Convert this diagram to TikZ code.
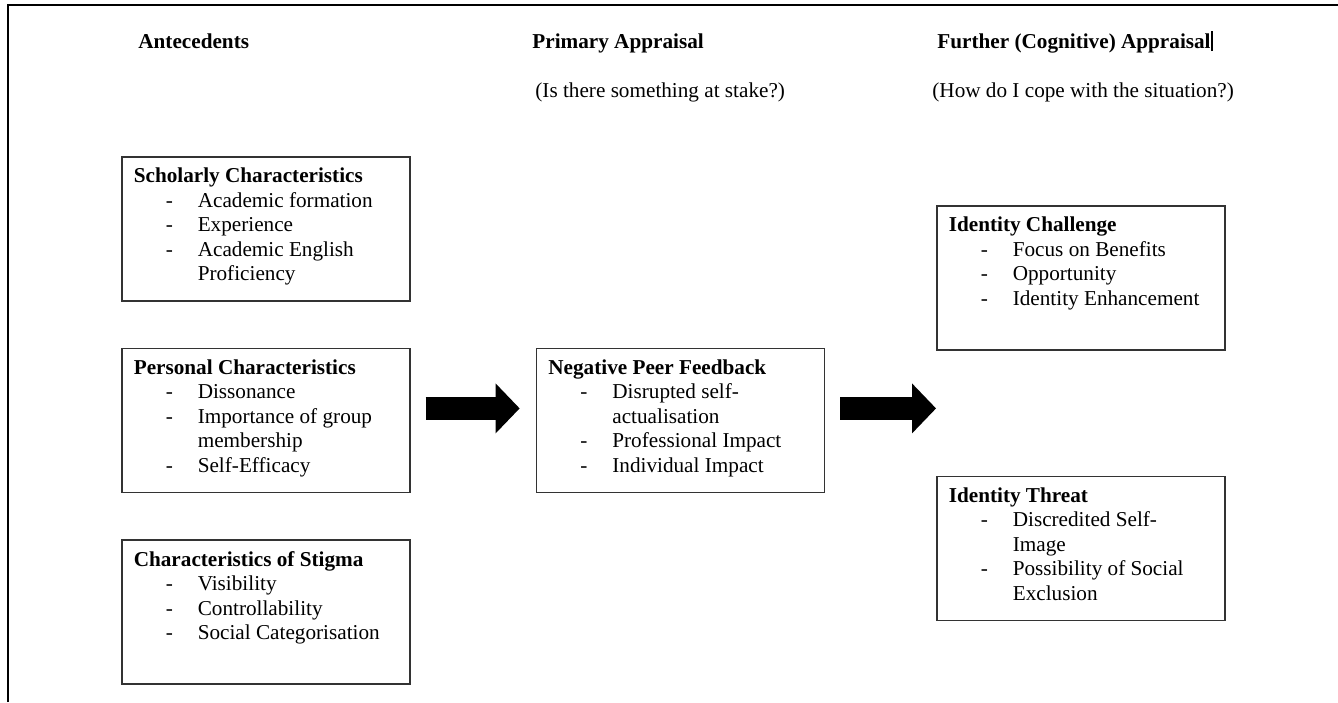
\documentclass[tikz,border=0pt]{standalone}
\usepackage{fontspec}
\setmainfont{Liberation Serif}
\usepackage{tikz}
\usetikzlibrary{positioning, arrows.meta}

\newcommand{\dashitem}{\\\hspace*{16pt}\makebox[16pt][l]{-}}
\newcommand{\moreline}{\\\hspace*{32pt}}
\newcommand{\boxtext}[1]{\parbox[c][72pt][t]{132pt}{\rule{0pt}{13pt}#1}}

\begin{document}
\begin{tikzpicture}[
  x=0.5pt, y=-0.5pt,
  font=\fontsize{10.6}{12.25}\selectfont,
  colhead/.style={anchor=base west, inner sep=0pt, font=\fontsize{10.6}{12.25}\selectfont\bfseries},
  colask/.style={anchor=base west, inner sep=0pt},
  box/.style={draw=black!80, line width=0.8pt, fill=white, inner xsep=6pt, inner ysep=0pt, anchor=north west},
  blockarr/.style={-{Triangle[length=12pt, width=25pt, line width=0pt]}, line width=11.5pt, shorten <=7.5pt, shorten >=8pt},
  pageline/.style={line width=1pt}
]
\useasboundingbox (0,0) rectangle (1338,702);
\draw[pageline] (8,702) -- (8,5) -- (1338,5);

% column headings
\node[colhead] (hdAnte) at (138,48) {Antecedents};
\node[colhead] (hdPrim) at (532,48) {Primary Appraisal};
\node[colhead] (hdFurth) at (937,48) {Further (Cognitive) Appraisal\rule[-1.5pt]{1pt}{10pt}};
\node[colask] (askPrim) at (535,97) {(Is there something at stake?)};
\node[colask] (askFurth) at (932,97) {(How do I cope with the situation?)};

% antecedents
\node[box] (schol) at (121,156) {\boxtext{\textbf{Scholarly Characteristics}\dashitem Academic formation\dashitem Experience\dashitem Academic English\moreline Proficiency}};
\node[box, below=23pt of schol] (pers) {\boxtext{\textbf{Personal Characteristics}\dashitem Dissonance\dashitem Importance of group\moreline membership\dashitem Self-Efficacy}};
\node[box, below=23pt of pers] (stig) {\boxtext{\textbf{Characteristics of Stigma}\dashitem Visibility\dashitem Controllability\dashitem Social Categorisation}};

% primary appraisal
\node[box, right=62.5pt of pers] (neg) {\boxtext{\textbf{Negative Peer Feedback}\dashitem Disrupted self-\moreline actualisation\dashitem Professional Impact\dashitem Individual Impact}};

% further appraisal
\node[box] (chal) at (936,205) {\boxtext{\textbf{Identity Challenge}\dashitem Focus on Benefits\dashitem Opportunity\dashitem Identity Enhancement}};
\node[box, below=62.5pt of chal] (threat) {\boxtext{\textbf{Identity Threat}\dashitem Discredited Self-\moreline Image\dashitem Possibility of Social\moreline Exclusion}};

\coordinate (arrEnd) at (neg.east -| chal.west);

\draw[blockarr] ([yshift=6pt]pers.east) -- ([yshift=6pt]neg.west);
\draw[blockarr, shorten >=0pt] ([yshift=6pt]neg.east) -- ([yshift=6pt]arrEnd);
\end{tikzpicture}
\end{document}
